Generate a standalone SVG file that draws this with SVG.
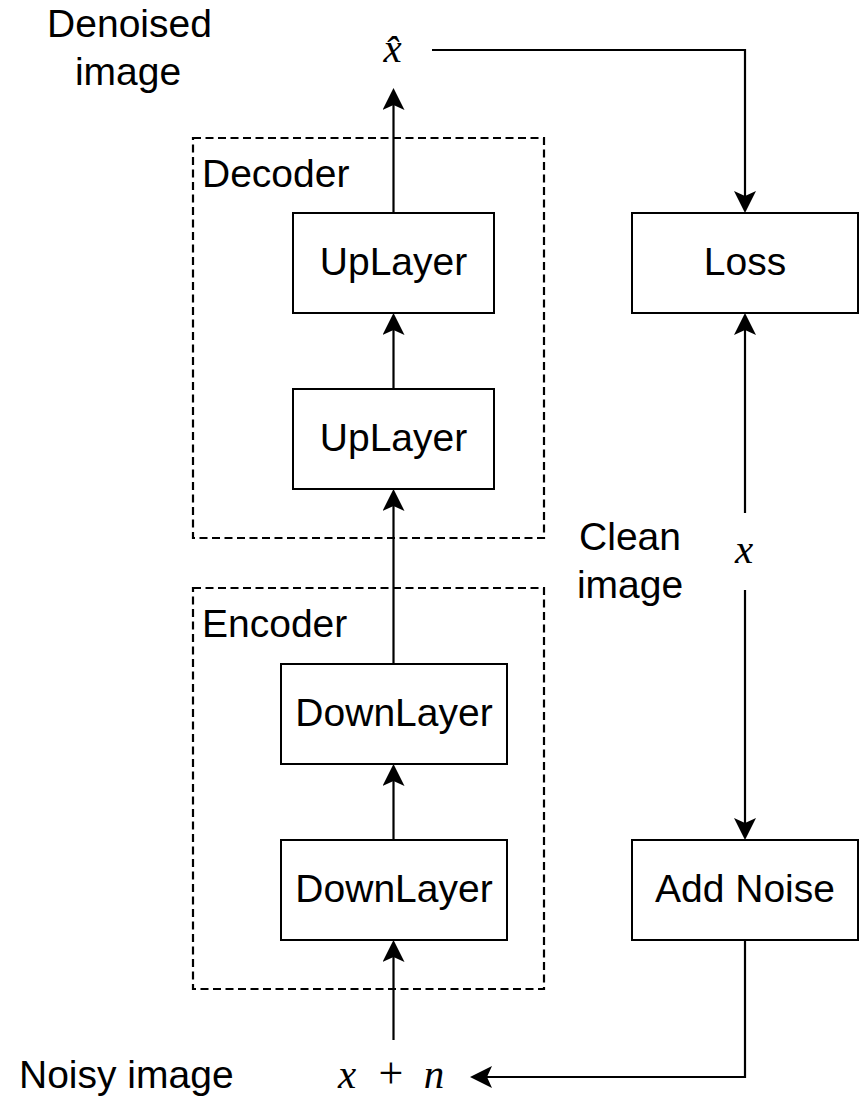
<svg xmlns="http://www.w3.org/2000/svg" width="862" height="1097" viewBox="0 0 862 1097">
  <style>
    .box { fill: #ffffff; stroke: #000000; stroke-width: 2; }
    .group { fill: none; stroke: #000000; stroke-width: 2.2; stroke-dasharray: 8 4.5; }
    .lbl { font-family: "Liberation Sans", Arial, Helvetica, sans-serif; font-size: 39px; fill: #000000; }
    .mid { text-anchor: middle; }
    .math { font-family: "Liberation Serif", "Times New Roman", serif; font-style: italic; font-size: 41px; fill: #000000; text-anchor: middle; }
    .op { font-family: "Liberation Serif", serif; font-style: normal; font-size: 44px; }
    .conn { fill: none; stroke: #000000; stroke-width: 2.2; marker-end: url(#arrow); }
  </style>
  <defs>
    <marker id="arrow" viewBox="0 0 22 22" refX="5" refY="11" markerWidth="22" markerHeight="22" markerUnits="userSpaceOnUse" orient="auto">
      <path d="M0,0 L22,11 L0,22 L5,11 Z" fill="#000000"/>
    </marker>
  </defs>
  <rect width="862" height="1097" fill="#ffffff"/>

  <g id="decoder">
    <rect class="group" x="193" y="138" width="351" height="400"/>
    <text class="lbl" x="202" y="187">Decoder</text>
  </g>
  <g id="encoder">
    <rect class="group" x="193" y="588" width="351" height="401"/>
    <text class="lbl" x="202" y="637">Encoder</text>
  </g>

  <g id="connectors">
    <path class="conn" d="M393.5,213 V105"/>
    <path class="conn" d="M393.5,389 V330"/>
    <path class="conn" d="M393.5,664 V506"/>
    <path class="conn" d="M393.5,840 V781"/>
    <path class="conn" d="M393.5,1040 V957"/>
    <path class="conn" d="M432,50 H745 V196"/>
    <path class="conn" d="M745,513 V330"/>
    <path class="conn" d="M745,590 V823"/>
    <path class="conn" d="M745,940 V1077 H487"/>
  </g>

  <g id="uplayer1">
    <rect class="box" x="293" y="213" width="201" height="100"/>
    <text class="lbl mid" x="393.5" y="275">UpLayer</text>
  </g>
  <g id="uplayer2">
    <rect class="box" x="293" y="389" width="201" height="100"/>
    <text class="lbl mid" x="393.5" y="450.5">UpLayer</text>
  </g>
  <g id="downlayer1">
    <rect class="box" x="281" y="664" width="226" height="100"/>
    <text class="lbl mid" x="394" y="725.5">DownLayer</text>
  </g>
  <g id="downlayer2">
    <rect class="box" x="281" y="840" width="226" height="100"/>
    <text class="lbl mid" x="394" y="901.5">DownLayer</text>
  </g>
  <g id="loss">
    <rect class="box" x="632" y="213" width="226" height="100"/>
    <text class="lbl mid" x="745" y="274.5">Loss</text>
  </g>
  <g id="addnoise">
    <rect class="box" x="632" y="840" width="226" height="100"/>
    <text class="lbl mid" x="745" y="901.5">Add Noise</text>
  </g>

  <g id="xhat">
    <text class="math" x="392.5" y="62">x̂</text>
  </g>
  <g id="denoised-label">
    <text class="lbl mid" x="129.5" y="37">Denoised</text>
    <text class="lbl mid" x="128" y="85">image</text>
  </g>
  <g id="x-clean">
    <text class="math" x="744" y="563">x</text>
  </g>
  <g id="clean-label">
    <text class="lbl mid" x="630" y="550">Clean</text>
    <text class="lbl mid" x="630" y="598">image</text>
  </g>
  <g id="x-plus-n">
    <text class="math" y="1088"><tspan x="347">x</tspan><tspan class="op" x="391">+</tspan><tspan x="434">n</tspan></text>
  </g>
  <g id="noisy-label">
    <text class="lbl" x="19" y="1088">Noisy image</text>
  </g>
</svg>
